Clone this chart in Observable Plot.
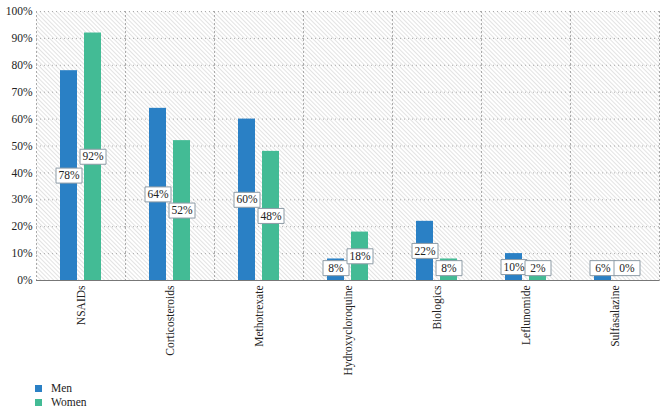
<!DOCTYPE html>
<html>
<head>
<meta charset="utf-8">
<script src="https://cdn.jsdelivr.net/npm/d3@7"></script>
<script src="https://cdn.jsdelivr.net/npm/@observablehq/plot@0.6"></script>
<style>
  body { margin: 0; background: #fff; font-family: 'Liberation Serif', serif; }
  #legend { margin-left: 35px; font-size: 11.5px; color: #222; line-height: 14px; padding-top: 6px; }
  #legend .row { display: flex; align-items: center; }
  #legend .sw { width: 7px; height: 7px; margin-right: 9px; display: inline-block; }
</style>
</head>
<body>
<div id="chart"></div>
<div id="legend"></div>
<script>
const drugs = ["NSAIDs","Corticosteroids","Methotrexate","Hydroxycloroquine","Biologics","Leflunomide","Sulfasalazine"];
const groups = ["Men","Women"];
const men = [78,64,60,8,22,10,6];
const women = [92,52,48,18,8,2,0];
const yTicks = [0,10,20,30,40,50,60,70,80,90,100];
const colors = ["#2a80c5","#43bb95"];
const labelFloor = 4.6;

const data = drugs.flatMap((d,i)=>[
  {drug:d, sex:"Men", value:men[i]},
  {drug:d, sex:"Women", value:women[i]}
]);

const boxSymbol = { draw(ctx) { ctx.rect(-13, -7.5, 26, 15); } };
const labelY = d => Math.max(d.value/2, labelFloor);

const plot = Plot.plot({
  width: 668, height: 375,
  marginLeft: 34, marginRight: 7, marginTop: 11, marginBottom: 95,
  style: {fontFamily: "Liberation Serif", fontSize: "11.5px", color: "#222", background: "transparent"},
  fx: {domain: drugs, padding: 0, label: null, tickRotate: -90, tickSize: 0, tickPadding: 5},
  x: {domain: groups, paddingInner: 0.28, paddingOuter: 0.93, axis: null},
  y: {domain: [0,100], ticks: yTicks, tickFormat: d => d + "%", label: null, tickSize: 0, tickPadding: 4},
  color: {domain: groups, range: colors},
  marks: [
    Plot.frame({fill: "url(#hatch)", stroke: null}),
    Plot.gridY(yTicks, {stroke: "#aaaaaa", strokeOpacity: 1, strokeDasharray: "1,3"}),
    Plot.frame({anchor: "left", stroke: "#aaaaaa", strokeDasharray: "1,3"}),
    Plot.frame({anchor: "right", stroke: "#aaaaaa", strokeDasharray: "1,3"}),
    Plot.barY(data, {fx: "drug", x: "sex", y: "value", fill: "sex"}),
    Plot.ruleY([0], {stroke: "#777"}),
    Plot.dot(data, {fx: "drug", x: "sex", y: labelY, symbol: boxSymbol, r: 1, fill: "white", stroke: "#8e9ca6", strokeWidth: 1}),
    Plot.text(data, {fx: "drug", x: "sex", y: labelY, text: d => d.value + "%", fill: "#222", fontSize: 11.5})
  ]
});

d3.select(plot).attr("font-family", "Liberation Serif");
d3.select(plot).selectAll("text").attr("font-family", "Liberation Serif").style("font-family", "'Liberation Serif', serif");

d3.select(plot).insert("defs", ":first-child").html(
  `<pattern id="hatch" patternUnits="userSpaceOnUse" width="3" height="3" patternTransform="rotate(-45)">
     <rect width="3" height="3" fill="#ffffff"/>
     <line x1="0.5" y1="0" x2="0.5" y2="3" stroke="#e3e3e3" stroke-width="1"/>
   </pattern>`);

document.getElementById("chart").appendChild(plot);

const legend = d3.select("#legend");
groups.forEach((g,i) => {
  const row = legend.append("div").attr("class","row");
  row.append("span").attr("class","sw").style("background", colors[i]);
  row.append("span").text(g);
});
</script>
</body>
</html>
